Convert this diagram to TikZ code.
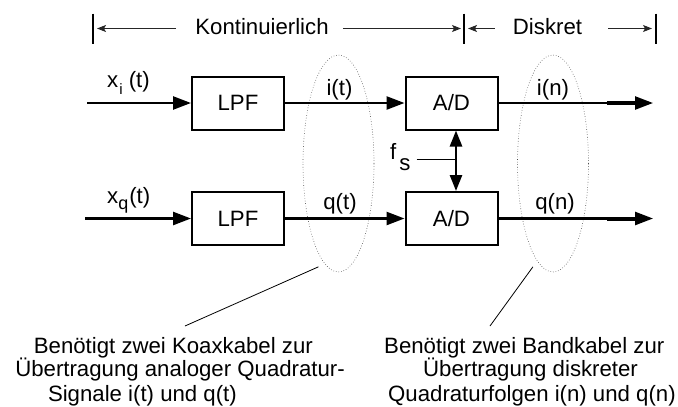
\documentclass[tikz,border=0pt]{standalone}
\usepackage{fontspec}
\setmainfont{Liberation Sans}
\usetikzlibrary{arrows.meta, shapes.geometric, calc}
\begin{document}
\begin{tikzpicture}[x=1pt, y=-1pt,
  txt/.style={font=\fontsize{22.2}{26}\selectfont, inner sep=0pt},
  box/.style={draw, line width=2pt, minimum width=92pt, minimum height=53pt, inner sep=0pt, font=\fontsize{22.2}{26}\selectfont},
  sig/.style={line width=2.5pt, -{Triangle[length=18pt, width=13pt]}},
  dbl/.style={line width=2.5pt, {Triangle[length=16pt, width=12pt]}-{Triangle[length=16pt, width=12pt]}},
  dim/.style={line width=0.9pt, black!85, -{Stealth[length=9pt, width=7pt, inset=2pt]}},
  bar/.style={line width=1.8pt},
  oval/.style={draw, ellipse, dotted, line width=0.6pt, gray!60!black, inner sep=0pt, outer sep=8pt, minimum width=71pt, minimum height=217pt},
  thinline/.style={line width=0.8pt}
]
\useasboundingbox (0,0) rectangle (678,407);

% dimension bars
\coordinate (b1) at (93,28.5);
\coordinate (b2) at (464,28.5);
\coordinate (b3) at (656,28.5);
\foreach \b in {b1,b2,b3} \draw[bar] ($(\b)+(0,-15)$) -- ($(\b)+(0,15)$);
\node[txt, anchor=base] (kont) at (262,34) {Kontinuierlich};
\node[txt, anchor=base] (disk) at (547.5,34) {Diskret};
\draw[dim, shorten >=4pt] ($(kont.west |- b1)+(-19,0)$) -- (b1);
\draw[dim, shorten >=3pt] ($(kont.east |- b2)+(14,0)$) -- (b2);
\draw[dim, shorten >=4pt] ($(disk.west |- b2)+(-18,0)$) -- (b2);
\draw[dim, shorten >=4pt] ($(disk.east |- b3)+(26,0)$) -- (b3);

% ellipses
\node[oval] (e1) at (338.5,163.5) {};
\node[oval] (e2) at (553,163.5) {};

% blocks
\node[box] (lpf1) at (238,103) {LPF};
\node[box] (lpf2) at (238,218.5) {LPF};
\node[box] (ad1) at (451.5,103) {A/D};
\node[box] (ad2) at (451.5,218.5) {A/D};

% inputs
\coordinate (in1) at (87,103);
\coordinate (in2) at (85,218.5);
\node[txt, anchor=base west] (xi) at (107,87) {x\raisebox{-7pt}{\fontsize{15}{15}\selectfont\hspace{1pt}i} (t)};
\node[txt, anchor=base west] (xq) at (107,203) {x\raisebox{-6pt}{\fontsize{18}{18}\selectfont q}\hspace{1pt}(t)};
\draw[sig] (in1) -- (lpf1.west);
\draw[sig] (in2) -- (lpf2.west);

% middle
\draw[sig] (lpf1.east) -- (ad1.west);
\draw[sig] (lpf2.east) -- (ad2.west);
\node[txt, anchor=base] (it) at (339.5,95) {i(t)};
\node[txt, anchor=base] (qt) at (340,209) {q(t)};

% outputs
\coordinate (out1) at (653,103);
\coordinate (out2) at (653,218.5);
\draw[sig] (ad1.east) -- (out1);
\draw[sig] (ad2.east) -- (out2);
\draw[line width=4pt] ($(out1)+(-46,0)$) -- ($(out1)+(-17,0)$);
\draw[line width=4pt] ($(out2)+(-46,0)$) -- ($(out2)+(-17,0)$);
\node[txt, anchor=base] (in) at (553,95) {i(n)};
\node[txt, anchor=base] (qn) at (555,209) {q(n)};

% sampling frequency
\coordinate (fsj) at (456,159);
\draw[dbl] (ad1.south -| fsj) -- (ad2.north -| fsj);
\node[txt, anchor=base west] (fs) at (390,159) {f\hspace{3pt}\raisebox{-11pt}{s}};
\draw[thinline] ($(fs.east |- fsj)+(6,0)$) -- (fsj);

% callouts
\coordinate (c1) at (185,326);
\coordinate (c2) at (490,326);
\draw[thinline] (e1.259) -- (c1);
\draw[thinline] (e2.259) -- (c2);

% bottom texts
\node[txt, anchor=base east] (l1) at (313,353) {Benötigt zwei Koaxkabel zur};
\node[txt, anchor=base east] (l2) at (345,376) {Übertragung analoger Quadratur-};
\node[txt, anchor=base east] (l3) at (237,401) {Signale i(t) und q(t)};
\node[txt, anchor=base west] (r1) at (384,353) {Benötigt zwei Bandkabel zur};
\node[txt, anchor=base west] (r2) at (423,376) {Übertragung diskreter};
\node[txt, anchor=base west] (r3) at (388,401) {Quadraturfolgen i(n) und q(n)};
\end{tikzpicture}
\end{document}
